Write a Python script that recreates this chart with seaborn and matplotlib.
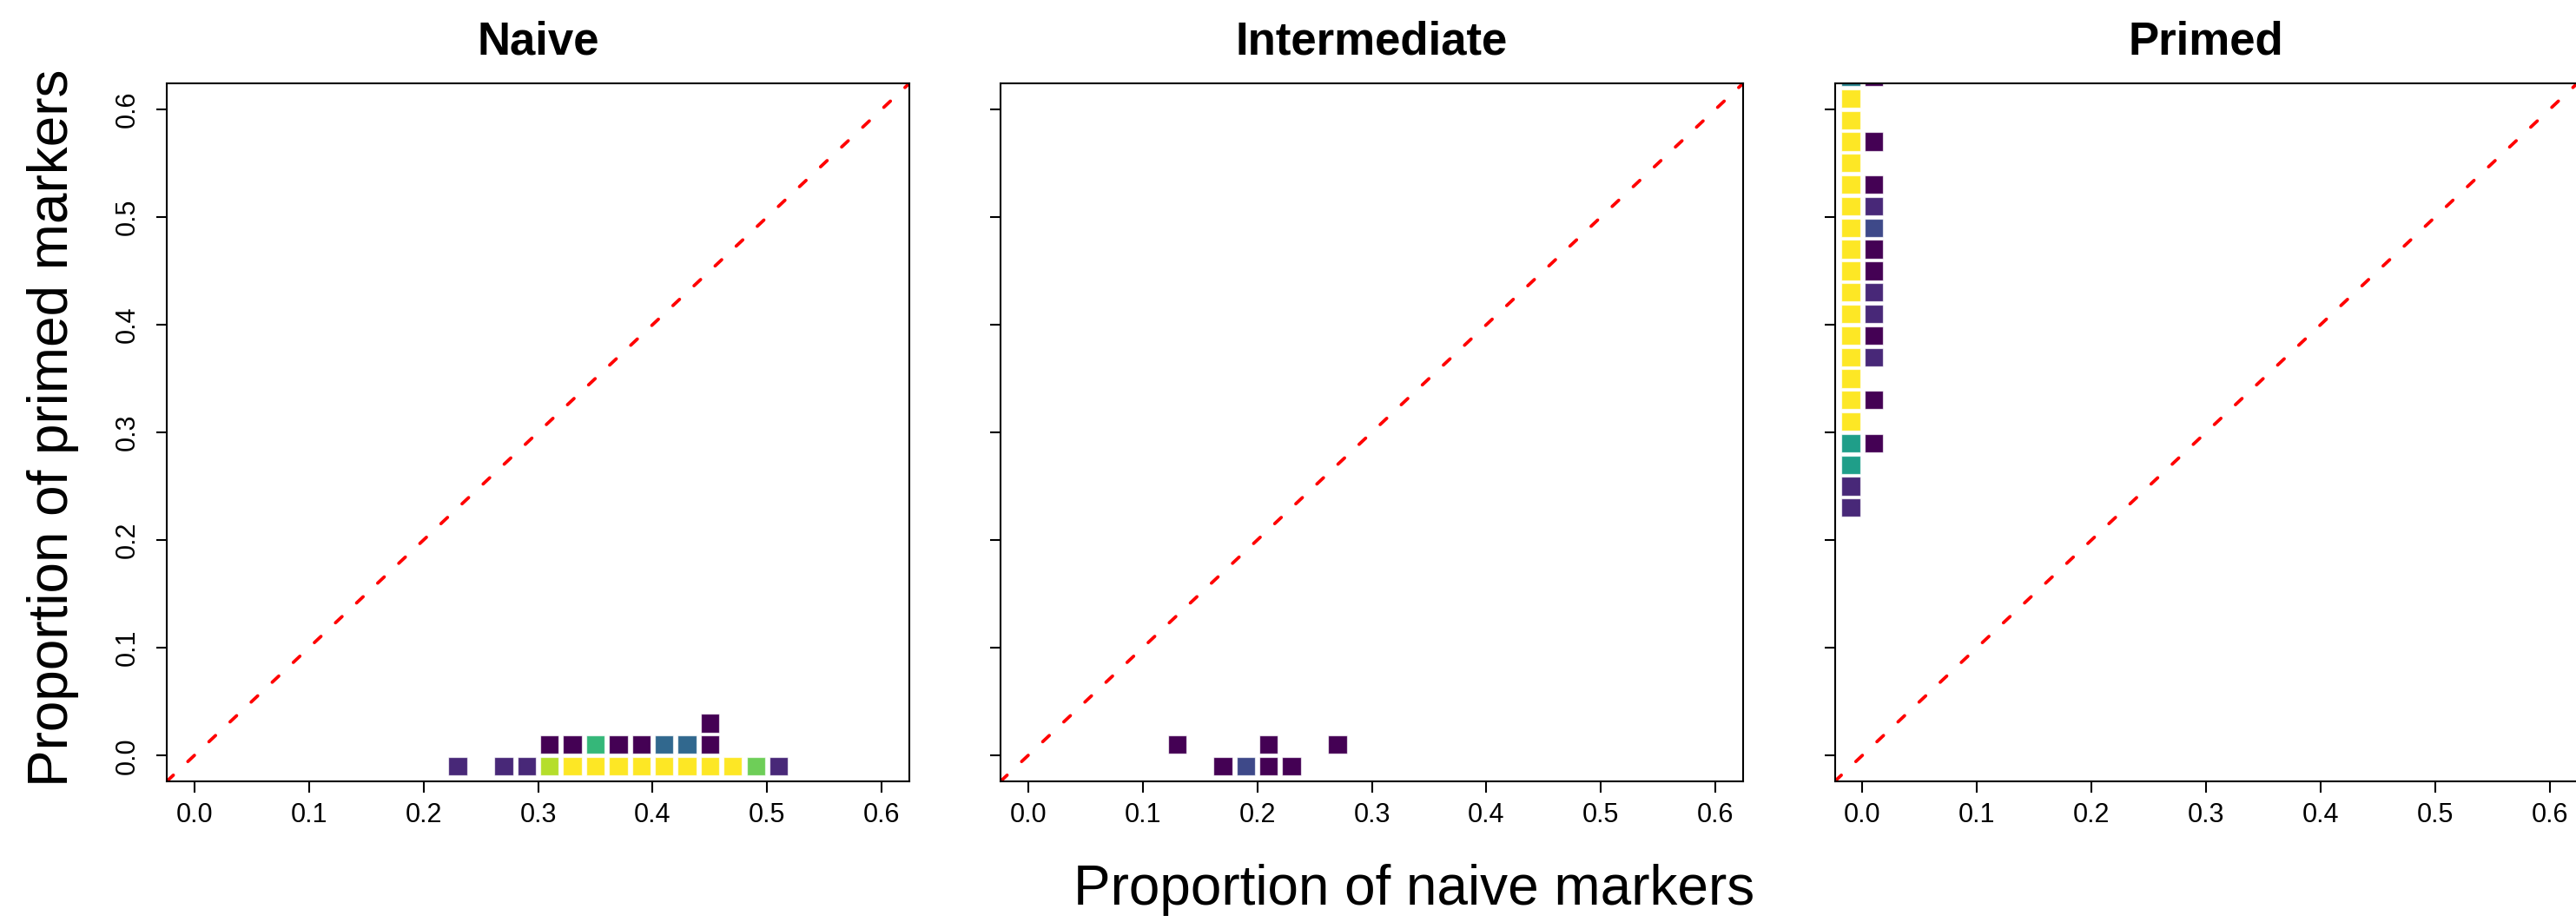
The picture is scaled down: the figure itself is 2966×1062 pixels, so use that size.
import numpy as np
import pandas as pd
import matplotlib
matplotlib.use("Agg")
import matplotlib.pyplot as plt
import seaborn as sns

# Binned cell counts (bin width 0.02) for each differentiation stage
stages = ["Naive", "Intermediate", "Primed"]

naive_x = [0.23, 0.27, 0.29, 0.31, 0.33, 0.35, 0.37, 0.39, 0.41, 0.43, 0.45, 0.47, 0.49, 0.51,
           0.31, 0.33, 0.35, 0.37, 0.39, 0.41, 0.43, 0.45,
           0.45]
naive_y = [-0.01] * 14 + [0.01] * 8 + [0.03]
naive_n = [2, 2, 2, 9, 10, 10, 10, 10, 10, 10, 10, 10, 8, 2,
           1, 1, 7, 1, 1, 4, 4, 1,
           1]

inter_x = [0.17, 0.19, 0.21, 0.23, 0.13, 0.21, 0.27]
inter_y = [-0.01, -0.01, -0.01, -0.01, 0.01, 0.01, 0.01]
inter_n = [1, 3, 1, 1, 1, 1, 1]

primed_x = [-0.01] * 21 + [0.01] * 13
primed_y = [0.63, 0.61, 0.59, 0.57, 0.55, 0.53, 0.51, 0.49, 0.47, 0.45, 0.43, 0.41,
            0.39, 0.37, 0.35, 0.33, 0.31, 0.29, 0.27, 0.25, 0.23,
            0.63, 0.57, 0.53, 0.51, 0.49, 0.47, 0.45, 0.43, 0.41, 0.39, 0.37, 0.33, 0.29]
primed_n = [5] + [10] * 16 + [6, 6, 2, 2,
            1, 1, 1, 2, 3, 1, 1, 2, 2, 1, 2, 1, 1]

tick_values = [0.0, 0.1, 0.2, 0.3, 0.4, 0.5, 0.6]
tick_labels = ["0.0", "0.1", "0.2", "0.3", "0.4", "0.5", "0.6"]

frames = []
for stage, xs, ys, ns in [("Naive", naive_x, naive_y, naive_n),
                          ("Intermediate", inter_x, inter_y, inter_n),
                          ("Primed", primed_x, primed_y, primed_n)]:
    frames.append(pd.DataFrame({"stage": stage, "naive": xs, "primed": ys, "count": ns}))
data = pd.concat(frames, ignore_index=True)

sns.set_theme(style="white")
plt.rcParams["font.family"] = ["Liberation Sans", "DejaVu Sans"]
plt.rcParams["lines.scale_dashes"] = False
plt.rcParams["text.color"] = "black"
plt.rcParams["axes.labelcolor"] = "black"

W, H = 2966, 1062
fig = plt.figure(figsize=(W / 100, H / 100), dpi=100)
fig.patch.set_facecolor("white")

lefts = [192, 1152, 2112.5]
ax_w = 855
ax_bottom = 900
ax_top = 96
lim = (-0.024, 0.624)

for i, stage in enumerate(stages):
    ax = fig.add_axes([lefts[i] / W, (H - ax_bottom) / H, ax_w / W, (ax_bottom - ax_top) / H])
    ax.set_facecolor("white")
    sub = data[data["stage"] == stage]
    ax.axline((0, 0), slope=1, color="#ff0000", lw=2.7, dashes=(7.5, 16.5),
              dash_capstyle="round", zorder=1)
    sns.scatterplot(data=sub, x="naive", y="primed", hue="count", palette="viridis",
                    hue_norm=(1, 10), marker="s", s=235, linewidth=0.9,
                    edgecolor=(1, 1, 1, 0.7), legend=False, ax=ax, zorder=2)
    ax.set_xlim(*lim)
    ax.set_ylim(*lim)
    ax.set_xticks(tick_values)
    ax.set_xticklabels(tick_labels)
    ax.set_yticks(tick_values)
    if i == 0:
        ax.set_yticklabels(tick_labels, rotation=90, va="center")
    else:
        ax.set_yticklabels([])
    ax.set_xlabel("")
    ax.set_ylabel("")
    for sp in ax.spines.values():
        sp.set_visible(True)
        sp.set_color("black")
        sp.set_linewidth(1.5)
    ax.tick_params(axis="both", which="major", direction="out", length=9, width=1.5,
                   color="black", labelsize=22, labelcolor="black",
                   bottom=True, left=True)
    ax.tick_params(axis="x", pad=8)
    ax.tick_params(axis="y", pad=13)
    ax.set_title(stage, fontsize=38, fontweight="bold", pad=23.8, color="black")

fig.text(1628 / W, (H - 1042) / H, "Proportion of naive markers", fontsize=46,
         ha="center", va="baseline", color="black")
fig.text(61 / W, 1 - 493 / H, "Proportion of primed markers", fontsize=46,
         ha="center", va="center", rotation=90, color="black")

fig.savefig("out.png", dpi=100, facecolor="white")
